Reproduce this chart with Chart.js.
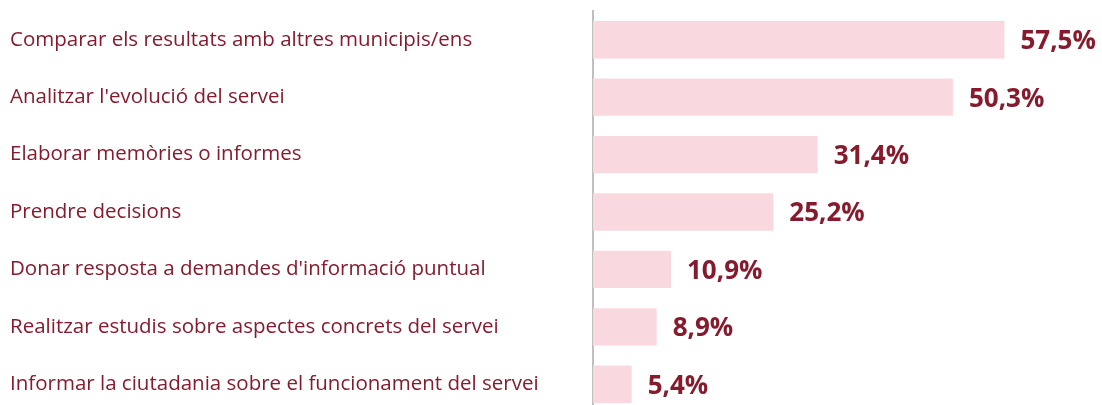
<!DOCTYPE html>
<html>
<head>
<meta charset="utf-8">
<script src="https://cdn.jsdelivr.net/npm/chart.js@4/dist/chart.umd.min.js"></script>
<style>
  html, body { margin: 0; padding: 0; background: #fff; overflow: hidden; }
  canvas { display: block; }
</style>
</head>
<body>
<canvas id="myChart" width="1102" height="413"></canvas>
<script>
// categories and values
const categories = [
  'Comparar els resultats amb altres municipis/ens',
  "Analitzar l'evolució del servei",
  'Elaborar memòries o informes',
  'Prendre decisions',
  "Donar resposta a demandes d'informació puntual",
  'Realitzar estudis sobre aspectes concrets del servei',
  'Informar la ciutadania sobre el funcionament del servei'
]
const values = [57.5, 50.3, 31.4, 25.2, 10.9, 8.9, 5.4]

const maroon = '#861b2d'
const barColor = '#f9d9df'

// no datalabels plugin here, so draw the value labels by hand
const valueLabels = {
  id: 'valueLabels',
  afterDatasetsDraw(chart) {
    const ctx = chart.ctx
    const meta = chart.getDatasetMeta(0)
    ctx.save()
    ctx.font = 'bold 26px "Open Sans"'
    ctx.fillStyle = maroon
    ctx.textAlign = 'left'
    ctx.textBaseline = 'middle'
    meta.data.forEach((bar, i) => {
      const txt = values[i].toFixed(1).replace('.', ',') + '%'
      ctx.fillText(txt, bar.x + 16, bar.y + 2)
    })
    ctx.restore()
  }
}

var ctx = document.getElementById('myChart')
var myChart = new Chart(ctx, {
  type: 'bar',
  data: {
    labels: categories,
    datasets: [
      {
        data: values,
        backgroundColor: barColor,
        borderWidth: 0,
        categoryPercentage: 1,
        barPercentage: 0.65
      }
    ]
  },
  options: {
    indexAxis: 'y',
    responsive: false,
    animation: false,
    layout: { padding: { left: 10, top: 11, right: 1, bottom: 0 } },
    plugins: {
      legend: { display: false },
      tooltip: { enabled: false }
    },
    scales: {
      x: {
        display: false,
        min: 0,
        max: 71
      },
      y: {
        afterFit: scale => {
          scale.width = 583
          // labels sit in the middle of each band, no need for extra room
          scale.paddingTop = 0
          scale.paddingBottom = 0
        },
        grid: { display: false, drawTicks: false },
        border: { display: true, color: '#bfbfbf', width: 2 },
        ticks: {
          crossAlign: 'far',
          padding: 0,
          color: maroon,
          font: { family: '"Open Sans"', size: 20.5 }
        }
      }
    }
  },
  plugins: [valueLabels]
})
</script>
</body>
</html>
